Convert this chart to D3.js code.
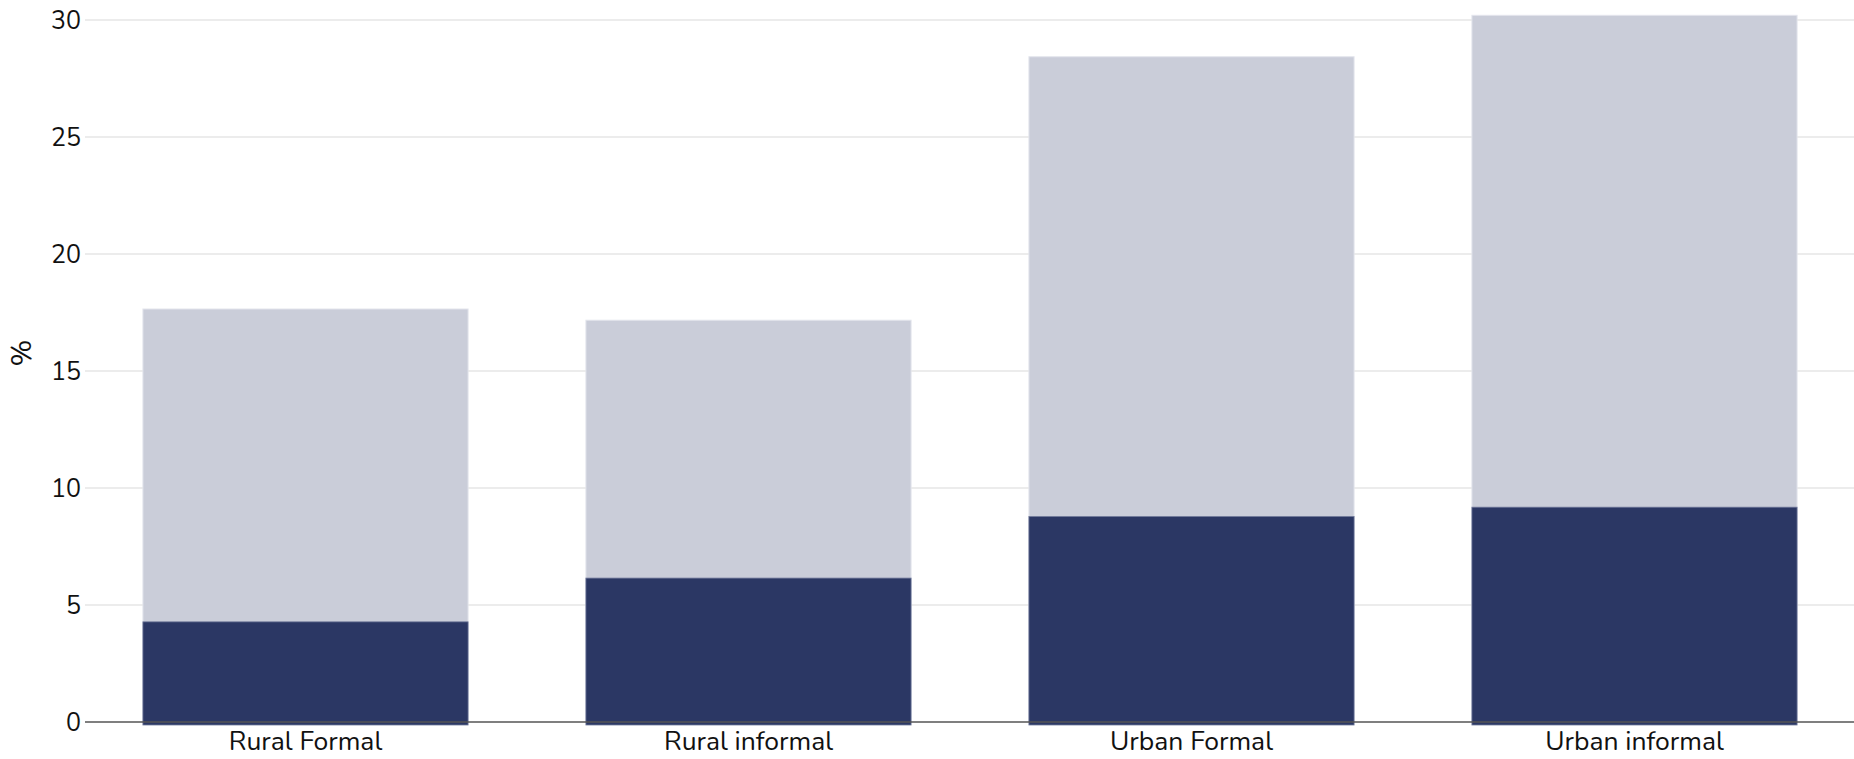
<!DOCTYPE html>
<html>
<head>
<meta charset="utf-8">
<script src="https://cdn.jsdelivr.net/npm/d3@7"></script>
<style>
  body { margin: 0; background: #fff; }
  text { font-family: "Nunito", "Lato", "Noto Sans", sans-serif; fill: #111; }
</style>
</head>
<body>
<svg id="chart" width="1854" height="759"></svg>
<script>
const categories = ["Rural Formal", "Rural informal", "Urban Formal", "Urban informal"];
// dark (bottom) segment and total bar height, in %
const darkValues = [4.28, 6.15, 8.78, 9.18];
const totalValues = [17.65, 17.17, 28.43, 30.2];
const yTicks = [0, 5, 10, 15, 20, 25, 30];

const width = 1854, height = 759;
const margin = { top: 20, right: 0, bottom: 37, left: 84 };

const svg = d3.select("#chart");

const x = d3.scaleBand()
    .domain(categories)
    .range([margin.left, width + 2])
    .paddingInner(0.266)
    .paddingOuter(0.133);

const y = d3.scaleLinear()
    .domain([0, 30])
    .range([height - margin.bottom, margin.top]);

// grid lines
svg.append("g")
    .selectAll("line")
    .data(yTicks.filter(d => d > 0))
    .enter()
    .append("line")
    .attr("x1", margin.left + 1)
    .attr("x2", width)
    .attr("y1", d => y(d))
    .attr("y2", d => y(d))
    .attr("stroke", "#e6e6e6")
    .attr("stroke-width", 1.5);

// y tick labels
svg.append("g")
    .selectAll("text")
    .data(yTicks)
    .enter()
    .append("text")
    .attr("x", margin.left - 3)
    .attr("y", d => y(d))
    .attr("dy", "0.35em")
    .attr("text-anchor", "end")
    .style("font-size", "25px")
    .text(d => d);

// light bars (total)
svg.append("g")
    .selectAll("rect")
    .data(categories)
    .enter()
    .append("rect")
    .attr("x", d => x(d))
    .attr("width", x.bandwidth())
    .attr("y", (d, i) => y(totalValues[i]))
    .attr("height", (d, i) => y(0) - y(totalValues[i]))
    .attr("fill", "#cacdd9")
    .attr("stroke", "#e3e5ec")
    .attr("stroke-width", 1);

// dark bars
svg.append("g")
    .selectAll("rect")
    .data(categories)
    .enter()
    .append("rect")
    .attr("x", d => x(d))
    .attr("width", x.bandwidth())
    .attr("y", (d, i) => y(darkValues[i]))
    .attr("height", (d, i) => y(0) - y(darkValues[i]) + 3)
    .attr("fill", "#2b3764")
    .attr("stroke", "#6f7899")
    .attr("stroke-width", 0.8);

// baseline
svg.append("line")
    .attr("x1", margin.left + 1)
    .attr("x2", width)
    .attr("y1", y(0))
    .attr("y2", y(0))
    .attr("stroke", "#555")
    .attr("stroke-width", 1.5);

// category labels
svg.append("g")
    .selectAll("text")
    .data(categories)
    .enter()
    .append("text")
    .attr("x", d => x(d) + x.bandwidth() / 2)
    .attr("y", 750)
    .attr("text-anchor", "middle")
    .style("font-size", "26.5px")
    .text(d => d);

// y axis label
svg.append("text")
    .attr("transform", `translate(31, ${y(15) - 18}) rotate(-90)`)
    .attr("text-anchor", "middle")
    .style("font-size", "29px")
    .text("%");
</script>
</body>
</html>
